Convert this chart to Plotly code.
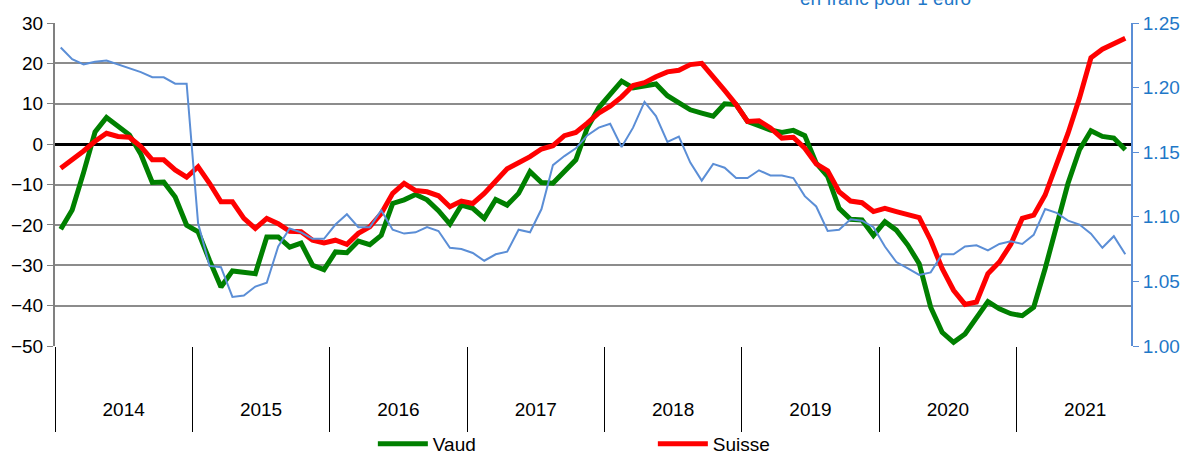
import plotly.graph_objects as go

years = ["2014", "2015", "2016", "2017", "2018", "2019", "2020", "2021"]

vaud = [-21.1, -16.3, -7.0, 3.0, 6.6, 4.6, 2.3, -2.5, -9.5, -9.4, -13.1, -20.1,
        -21.7, -28.8, -35.4, -31.4, -31.8, -32.1, -23.0, -23.0, -25.5, -24.5, -30.0, -31.1,
        -26.7, -26.9, -24.0, -24.9, -22.6, -14.7, -13.8, -12.5, -13.8, -16.5, -19.8, -15.1,
        -15.9, -18.4, -13.7, -15.1, -12.2, -6.8, -9.5, -9.7, -6.8, -3.9, 4.0, 9.0,
        12.3, 15.6, 13.9, 14.3, 14.9, 12.0, 10.2, 8.5, 7.7, 6.9, 10.0, 9.8,
        5.6, 4.4, 3.5, 2.9, 3.4, 2.1, -4.7, -8.0, -15.9, -18.6, -18.8, -22.6,
        -19.2, -21.3, -25.0, -29.6, -40.4, -46.6, -49.1, -47.0, -42.9, -39.0, -40.8, -42.0,
        -42.5, -40.4, -30.8, -19.7, -9.7, -1.4, 3.3, 1.9, 1.5, -1.4]

suisse = [-6.0, -3.9, -1.7, 0.7, 2.7, 1.9, 1.7, -0.6, -3.9, -3.9, -6.4, -8.2,
          -5.6, -9.7, -14.3, -14.3, -18.4, -20.9, -18.4, -19.7, -21.6, -21.7, -23.8, -24.5,
          -23.8, -24.8, -22.1, -20.5, -17.2, -12.2, -9.7, -11.5, -11.8, -12.8, -15.5, -14.1,
          -14.7, -12.2, -9.3, -6.1, -4.6, -3.1, -1.2, -0.4, 2.1, 2.9, 5.2, 7.7,
          9.4, 11.7, 14.5, 15.2, 16.7, 17.9, 18.3, 19.7, 20.0, 16.4, 13.3, 9.8,
          5.6, 5.8, 4.0, 1.5, 1.7, -1.0, -4.9, -6.6, -11.8, -14.1, -14.5, -16.7,
          -15.9, -16.7, -17.6, -18.2, -23.8, -30.8, -36.2, -39.7, -39.1, -32.1, -29.2, -24.8,
          -18.4, -17.6, -12.6, -5.1, 2.7, 11.4, 21.4, 23.5, 24.7, 26.2]

eurchf = [1.231, 1.222, 1.218, 1.220, 1.221, 1.218, 1.215, 1.212, 1.208, 1.208, 1.203, 1.203,
          1.095, 1.062, 1.061, 1.038, 1.039, 1.046, 1.049, 1.077, 1.091, 1.088, 1.083, 1.083,
          1.094, 1.102, 1.092, 1.092, 1.105, 1.090, 1.087, 1.088, 1.092, 1.089, 1.076, 1.075,
          1.072, 1.066, 1.071, 1.073, 1.090, 1.088, 1.106, 1.140, 1.147, 1.153, 1.163, 1.169,
          1.172, 1.154, 1.169, 1.189, 1.178, 1.158, 1.162, 1.142, 1.128, 1.141, 1.138, 1.130,
          1.130, 1.136, 1.132, 1.132, 1.130, 1.116, 1.108, 1.089, 1.090, 1.098, 1.097, 1.092,
          1.077, 1.065, 1.060, 1.055, 1.057, 1.071, 1.071, 1.077, 1.078, 1.074, 1.079, 1.081,
          1.079, 1.086, 1.106, 1.103, 1.097, 1.094, 1.087, 1.076, 1.085, 1.071]

months = [i + 0.5 for i in range(len(vaud))]
year_centers = [6 + 12 * k for k in range(len(years))]
year_bounds = [12 * k for k in range(len(years))]

FONT = "Liberation Sans, Arial, sans-serif"
BLUE_TXT = "#1F78C8"

fig = go.Figure()
fig.add_trace(go.Scatter(x=months, y=vaud, name="Vaud", mode="lines",
                         line=dict(color="#008000", width=5)))
fig.add_trace(go.Scatter(x=months, y=suisse, name="Suisse", mode="lines",
                         line=dict(color="#FF0000", width=5)))
fig.add_trace(go.Scatter(x=months, y=eurchf, name="EUR/CHF", mode="lines", yaxis="y2",
                         showlegend=False, line=dict(color="#5B8ED6", width=2)))

fig.update_layout(
    width=1193, height=455,
    margin=dict(l=55, r=62, t=23, b=109, autoexpand=False),
    paper_bgcolor="white", plot_bgcolor="white",
    font=dict(family=FONT, size=19, color="black"),
    showlegend=True,
    legend=dict(orientation="h", x=0.2954, xanchor="left", y=-0.303, yanchor="middle",
                entrywidth=215, itemwidth=50, font=dict(size=19), bgcolor="rgba(0,0,0,0)"),
    xaxis=dict(range=[0, 94], tickmode="array", tickvals=year_centers, ticktext=years,
               ticks="", showgrid=False, zeroline=False, showline=False,
               ticklabelstandoff=50,
               minor=dict(tickmode="array", tickvals=year_bounds, ticks="outside",
                          ticklen=85, tickcolor="black", tickwidth=1, showgrid=False)),
    yaxis=dict(range=[-50, 30], dtick=10, tickmode="linear", tick0=-50,
               showgrid=True, gridcolor="#8C8C8C", gridwidth=2,
               zeroline=True, zerolinecolor="black", zerolinewidth=3,
               showline=True, linecolor="#808080", linewidth=2,
               ticks="outside", ticklen=6, tickcolor="#808080", tickwidth=1),
    yaxis2=dict(range=[1.00, 1.25], dtick=0.05, tick0=1.0, tickmode="linear",
                tickformat=".2f", overlaying="y", side="right", showgrid=False,
                zeroline=False, showline=True, linecolor="#5B8ED6", linewidth=2,
                ticks="outside", ticklen=6, tickcolor="#5B8ED6",
                tickfont=dict(color=BLUE_TXT, size=19)),
)

fig.add_annotation(text="en franc pour 1 euro", xref="paper", yref="paper",
                   x=0.772, y=1.0765, xanchor="center", yanchor="middle",
                   showarrow=False, font=dict(color=BLUE_TXT, size=19))

fig.write_html("out.html", config={"displayModeBar": False},
               post_script="document.body.style.margin='0';document.body.style.padding='0';")
